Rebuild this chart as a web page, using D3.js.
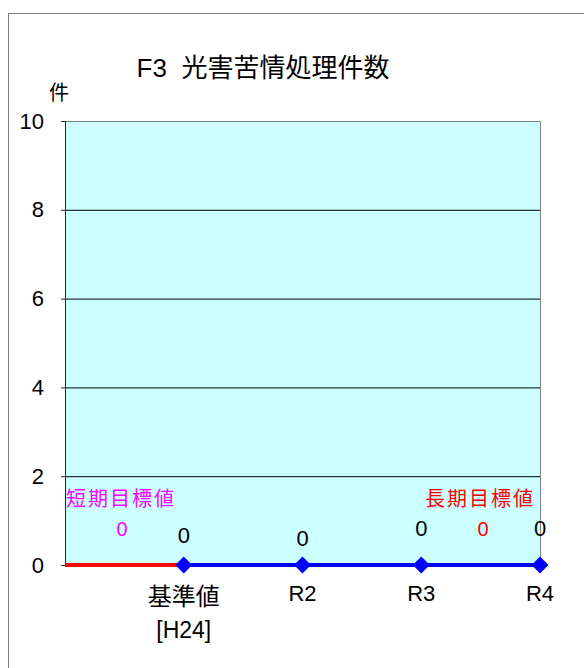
<!DOCTYPE html>
<html>
<head>
<meta charset="utf-8">
<script src="https://cdn.jsdelivr.net/npm/d3@7"></script>
<style>
  body { margin: 0; background: #fff; }
  text { font-family: "Liberation Sans", "Noto Sans CJK JP", sans-serif; }
</style>
</head>
<body>
<div id="vis"></div>
<script>
var width = 584
var height = 668

// data
var categories = ["", "基準値\n[H24]", "R2", "R3", "R4"]
var actual = [null, 0, 0, 0, 0]
var baseLine = [0, 0, null, null, null]
var yTicks = [0, 2, 4, 6, 8, 10]
var shortTarget = { label: "短期目標値", value: 0 }
var longTarget = { label: "長期目標値", value: 0 }

var svg = d3.select("#vis")
  .append("svg")
  .attr("width", width)
  .attr("height", height)
  .style("display", "block")

// outer frame (runs off the right and bottom edge)
svg.append("rect")
  .attr("x", 8.5).attr("y", 13.5)
  .attr("width", 620).attr("height", 700)
  .attr("fill", "none")
  .attr("stroke", "#808080")

var plot = { left: 65, top: 121, right: 540, bottom: 565 }

var x = d3.scalePoint()
  .domain(d3.range(categories.length))
  .range([plot.left, plot.right])
  .padding(0)

var y = d3.scaleLinear()
  .domain([0, 10])
  .range([plot.bottom, plot.top])

// plot background
svg.append("rect")
  .attr("x", plot.left).attr("y", plot.top)
  .attr("width", plot.right - plot.left)
  .attr("height", plot.bottom - plot.top)
  .attr("fill", "#ccffff")

// gridlines
svg.append("g")
  .selectAll("line")
  .data(yTicks.filter(d => d > 0 && d < 10))
  .enter().append("line")
    .attr("x1", plot.left).attr("x2", plot.right)
    .attr("y1", d => y(d) + 0.5).attr("y2", d => y(d) + 0.5)
    .attr("stroke", "#000")

// top and right border
svg.append("path")
  .attr("d", `M${plot.left},${plot.top + 0.5}H${plot.right + 0.5}V${plot.bottom}`)
  .attr("fill", "none")
  .attr("stroke", "#808080")

// y axis
var yAxis = d3.axisLeft(y)
  .tickValues(yTicks)
  .tickSize(4)
  .tickPadding(17)

var yg = svg.append("g")
  .attr("transform", `translate(${plot.left},0)`)
  .call(yAxis)
yg.select(".domain").attr("stroke", "#222")
yg.selectAll(".tick line").attr("stroke", "#222")
yg.selectAll(".tick text")
  .attr("font-size", 22)
  .attr("fill", "#000")
  .style("font-family", "'Liberation Sans', sans-serif")

// unit
svg.append("text")
  .attr("x", 59).attr("y", 100)
  .attr("text-anchor", "middle")
  .attr("font-size", 20)
  .text("件")

// title
svg.append("text")
  .attr("x", 263).attr("y", 77)
  .attr("text-anchor", "middle")
  .attr("font-size", 26)
  .attr("xml:space", "preserve")
  .text("F3  光害苦情処理件数")

// x labels
var xl = svg.append("g")
  .selectAll("text")
  .data(categories)
  .enter().append("text")
    .attr("x", (d, i) => x(i))
    .attr("y", 601)
    .attr("text-anchor", "middle")
    .attr("font-size", 22)
xl.each(function(d) {
  var lines = d.split("\n")
  var t = d3.select(this)
  lines.forEach(function(l, j) {
    t.append("tspan")
      .attr("x", t.attr("x"))
      .attr("dy", j === 0 ? (lines.length > 1 ? 4 : 0) : 33)
      .attr("font-size", lines.length > 1 ? (j === 0 ? 24 : 23) : 22)
      .text(l)
  })
})

// base line (red)
var line = d3.line()
  .defined(d => d != null)
  .x((d, i) => x(i))
  .y(d => y(d))

svg.append("path")
  .datum(baseLine)
  .attr("d", line)
  .attr("fill", "none")
  .attr("stroke", "#ff0000")
  .attr("stroke-width", 4)

// actual series (blue)
svg.append("path")
  .datum(actual)
  .attr("d", line)
  .attr("fill", "none")
  .attr("stroke", "#0000ff")
  .attr("stroke-width", 4)

var diamond = d3.symbol(d3.symbolSquare, 144)
svg.append("g")
  .selectAll("path")
  .data(actual.map((v, i) => ({ v: v, i: i })).filter(d => d.v != null))
  .enter().append("path")
    .attr("d", diamond)
    .attr("transform", d => `translate(${x(d.i)},${y(d.v)}) rotate(45)`)
    .attr("fill", "#0000ff")

// value labels
var labelDy = [0, -30, -27, -37, -37]
svg.append("g")
  .selectAll("text")
  .data(actual.map((v, i) => ({ v: v, i: i })).filter(d => d.v != null))
  .enter().append("text")
    .attr("x", d => x(d.i))
    .attr("y", d => y(d.v) + labelDy[d.i] + 8)
    .attr("text-anchor", "middle")
    .attr("font-size", 22)
    .text(d => d.v)

// target notes
svg.append("text")
  .attr("x", 66).attr("y", 506)
  .attr("font-size", 20)
  .attr("letter-spacing", 2)
  .attr("fill", "#ff00ff")
  .text(shortTarget.label)
svg.append("text")
  .attr("x", 122).attr("y", y(shortTarget.value) - 29)
  .attr("text-anchor", "middle")
  .attr("font-size", 20)
  .attr("fill", "#ff00ff")
  .text(shortTarget.value)

svg.append("text")
  .attr("x", 425).attr("y", 506)
  .attr("font-size", 20)
  .attr("letter-spacing", 2)
  .attr("fill", "#ff0000")
  .text(longTarget.label)
svg.append("text")
  .attr("x", 483).attr("y", y(longTarget.value) - 29)
  .attr("text-anchor", "middle")
  .attr("font-size", 20)
  .attr("fill", "#ff0000")
  .text(longTarget.value)
</script>
</body>
</html>
